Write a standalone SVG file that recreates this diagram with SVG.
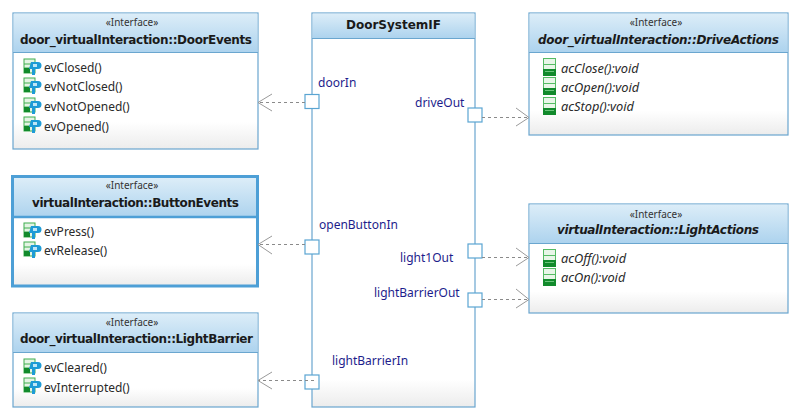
<svg xmlns="http://www.w3.org/2000/svg" width="800" height="420" viewBox="0 0 800 420">
<style>
text{font-family:"Noto Sans","DejaVu Sans",sans-serif;fill:#1c1c1c}
.st{font-size:10px;text-anchor:middle;fill:#333}
.ti{font-family:"DejaVu Sans",sans-serif;font-size:12px;font-weight:700;fill:#1a1a1a}
.it{font-style:italic}
.op{font-size:12px;fill:#2a2a2a}
.opi{font-size:12.800px;font-style:italic;fill:#2a2a2a}
.pl{font-size:12px;fill:#1d1d8c}
.box{fill:url(#body);stroke:#6aa6cf;stroke-width:1.200}
.hd{fill:url(#head)}
.sep{stroke:#6aa6cf;stroke-width:1.200}
.port{fill:#fff;stroke:#5aa5d2;stroke-width:1.200}
.dash{fill:none;stroke:#8a8a8a;stroke-width:1;stroke-dasharray:3 3}
.tip{fill:none;stroke:#9a9a9a;stroke-width:1}
</style>
<defs>
<linearGradient id="head" x1="0" y1="0" x2="0" y2="1"><stop offset="0" stop-color="#dcedf8"/><stop offset="1" stop-color="#add3ee"/></linearGradient>
<linearGradient id="body" x1="0" y1="0" x2="0" y2="1"><stop offset="0" stop-color="#fff"/><stop offset="0.8" stop-color="#fff"/><stop offset="1" stop-color="#ececec"/></linearGradient>
<linearGradient id="bodyTall" x1="0" y1="0" x2="0" y2="1"><stop offset="0" stop-color="#fff"/><stop offset="0.93" stop-color="#fff"/><stop offset="1" stop-color="#ececec"/></linearGradient>
<g id="rx">
<rect x="0" y="0" width="11" height="14" fill="#e4f4e4" stroke="#3fae4f"/>
<path d="M0 5H11M0 9H11" stroke="#3fae4f"/>
<rect x="0" y="9" width="6" height="5" fill="#128a2c"/>
<path d="M7 3h7a3.500 3.500 0 0 1 0 7h-3v6h-3v-6h-3z" fill="#1e9bd6"/>
<path d="M9 5h4v3h-4z" fill="#bfe6f7"/>
</g>
<g id="ac">
<rect x="0.500" y="0.500" width="12" height="17" fill="#e8f6e8" stroke="#55bb64" stroke-width="1"/>
<path d="M0 6.500H12M0 11.500H12" stroke="#55bb64"/>
<rect x="0" y="11" width="13" height="7" fill="#128a2c"/>
<path d="M2 13.500H11" stroke="#6cc47b"/>
</g>
</defs>
<rect width="800" height="420" fill="#fff"/>

<g id="door-events">
<rect class="box" x="13" y="13" width="245" height="136"/>
<rect class="hd" x="13.600" y="13.600" width="243.800" height="38.400"/>
<path class="sep" d="M13 52.500H258"/>
<text class="st" x="132" y="26">«Interface»</text>
<text class="ti" x="20" y="44" textLength="232">door_virtualInteraction::DoorEvents</text>
<use href="#rx" x="24" y="59"/><text class="op" x="44" y="72">evClosed()</text>
<use href="#rx" x="24" y="78"/><text class="op" x="44" y="91">evNotClosed()</text>
<use href="#rx" x="24" y="98"/><text class="op" x="44" y="111">evNotOpened()</text>
<use href="#rx" x="24" y="117"/><text class="op" x="44" y="131">evOpened()</text>
</g>

<g id="button-events">
<rect class="box" x="12.500" y="176.500" width="245" height="109.500" style="stroke:#4d9fd6;stroke-width:3"/>
<rect class="hd" x="14" y="178" width="242" height="39"/>
<path d="M13 217H258" stroke="#4d9fd6" stroke-width="2.500"/>
<text class="st" x="132" y="189">«Interface»</text>
<text class="ti" x="32" y="207" textLength="207">virtualInteraction::ButtonEvents</text>
<use href="#rx" x="24" y="223"/><text class="op" x="44" y="236">evPress()</text>
<use href="#rx" x="24" y="242"/><text class="op" x="44" y="255">evRelease()</text>
</g>

<g id="light-barrier">
<rect class="box" x="13" y="313" width="245" height="94"/>
<rect class="hd" x="13.600" y="313.600" width="243.800" height="38.400"/>
<path class="sep" d="M13 352.500H258"/>
<text class="st" x="132" y="326">«Interface»</text>
<text class="ti" x="20" y="343" textLength="233">door_virtualInteraction::LightBarrier</text>
<use href="#rx" x="24" y="359"/><text class="op" x="44" y="372">evCleared()</text>
<use href="#rx" x="24" y="378"/><text class="op" x="44" y="392">evInterrupted()</text>
</g>

<g id="door-system-if">
<rect class="box" x="312" y="13" width="163" height="394" style="fill:url(#bodyTall)"/>
<rect class="hd" x="312.600" y="13.600" width="161.800" height="24.400"/>
<path class="sep" d="M312 38.500H475"/>
<text class="ti" x="393.500" y="29" text-anchor="middle">DoorSystemIF</text>
</g>

<g id="drive-actions">
<rect class="box" x="529" y="13" width="259" height="122"/>
<rect class="hd" x="529.600" y="13.600" width="257.800" height="38.400"/>
<path class="sep" d="M529 52.500H788"/>
<text class="st" x="656" y="26">«Interface»</text>
<text class="ti it" x="538" y="44" textLength="241">door_virtualInteraction::DriveActions</text>
<use href="#ac" x="543" y="58"/><text class="opi" x="561" y="73">acClose():void</text>
<use href="#ac" x="543" y="77"/><text class="opi" x="561" y="92">acOpen():void</text>
<use href="#ac" x="543" y="97"/><text class="opi" x="561" y="111">acStop():void</text>
</g>

<g id="light-actions">
<rect class="box" x="529" y="204" width="259" height="109"/>
<rect class="hd" x="529.600" y="204.600" width="257.800" height="38.400"/>
<path class="sep" d="M529 243.500H788"/>
<text class="st" x="656" y="218">«Interface»</text>
<text class="ti it" x="557" y="234" textLength="202">virtualInteraction::LightActions</text>
<use href="#ac" x="543" y="249"/><text class="opi" x="561" y="263">acOff():void</text>
<use href="#ac" x="543" y="268"/><text class="opi" x="561" y="282">acOn():void</text>
</g>

<g id="port-doorIn"><rect class="port" x="305" y="94.500" width="14" height="14"/><text class="pl" x="318" y="87">doorIn</text></g>
<g id="port-openButtonIn"><rect class="port" x="305" y="240" width="14" height="14"/><text class="pl" x="319" y="229">openButtonIn</text></g>
<g id="port-lightBarrierIn"><rect class="port" x="305" y="375" width="14" height="14"/><text class="pl" x="332" y="365">lightBarrierIn</text></g>
<g id="port-driveOut"><rect class="port" x="468" y="108" width="14" height="14"/><text class="pl" x="415" y="107">driveOut</text></g>
<g id="port-light1Out"><rect class="port" x="468" y="244" width="14" height="14"/><text class="pl" x="400" y="262">light1Out</text></g>
<g id="port-lightBarrierOut"><rect class="port" x="468" y="293" width="14" height="14"/><text class="pl" x="374" y="297">lightBarrierOut</text></g>

<g id="connectors">
<path class="dash" d="M305 102.500H259"/><path class="tip" d="M272 94L258 102.500L272 111"/>
<path class="dash" d="M305 244.500H259"/><path class="tip" d="M272 236L258 244.500L272 254"/>
<path class="dash" d="M314 380.500H259"/><path class="tip" d="M272 372L258 380.500L272 389"/>
<path class="dash" d="M482 117.500H528"/><path class="tip" d="M516 108L529 117.500L516 126"/>
<path class="dash" d="M482 257.500H528"/><path class="tip" d="M516 248L529 257.500L516 266"/>
<path class="dash" d="M482 299.500H528"/><path class="tip" d="M516 289L529 299.500L516 308"/>
</g>
</svg>
